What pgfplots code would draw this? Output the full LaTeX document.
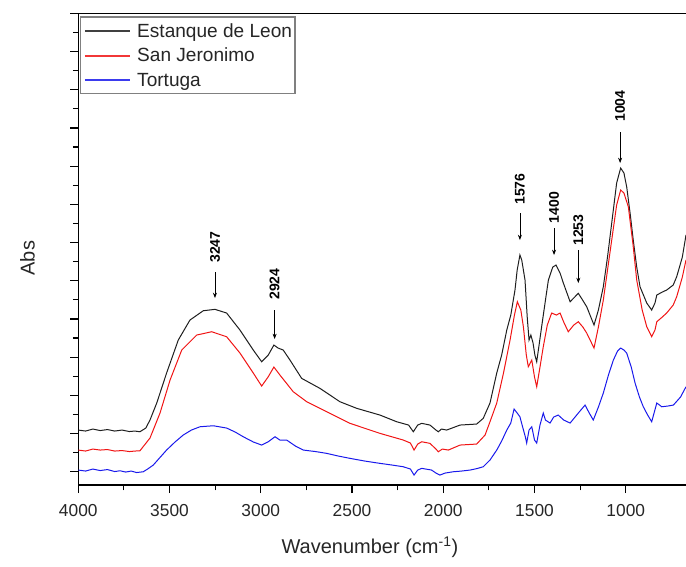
\documentclass[border=0pt]{standalone}
\usepackage{fontspec}
\setmainfont{Liberation Sans}
\usepackage{pgfplots}
\pgfplotsset{compat=1.18}
\usetikzlibrary{arrows.meta}

\definecolor{specblack}{RGB}{30,30,30}
\definecolor{specred}{RGB}{240,20,20}
\definecolor{specblue}{RGB}{25,25,235}

% spectra, y in arbitrary absorbance units
\pgfplotstableread{
w v
4000 55
3960 54
3920 56
3880 54.5
3840 55.5
3800 54
3760 55
3720 53.5
3690 54
3662 53.3
3630 57
3607 65
3570 82
3516 112
3452 145
3388 165
3315 174.3
3251 175.7
3187 172
3114 155
3041 135
2995 123.3
2959 130
2928 140
2905 137
2877 135
2840 125
2776 106.7
2676 96.7
2566 83.3
2474 76.7
2347 70
2255 63.3
2190 60
2164 53.3
2140 60
2118 61.7
2073 60
2040 55
2027 53.3
2010 56
1981 55
1908 60
1817 61
1781 66.7
1744 82
1707 112
1680 130
1652 155
1630 170
1607 195
1595 215
1580 230
1570 225
1561 215
1552 205
1540 168
1530 145
1520 150
1508 142
1498 130
1488 123.3
1475 140
1461 158.3
1440 185
1424 205
1400 218
1382 220
1360 212
1342 202
1305 183.3
1280 188
1260 191.7
1240 186
1214 178.3
1174 160
1150 175
1123 198.3
1100 228
1077 262
1050 302
1028 317
1010 312
995 298.3
975 270
959 245
940 218
922 198.3
885 182
858 175
840 182
830 190
800 193
776 195
740 200
721 208.3
690 228
670 250
}\blackdata

\pgfplotstableread{
w v
4000 35
3960 34
3920 36
3880 35
3840 35.5
3800 34
3760 34.5
3720 33.5
3690 34
3662 34.3
3607 47
3552 72
3497 105
3433 135
3351 150
3269 153.3
3187 148.3
3114 132
3041 112
2995 99
2959 108.3
2928 118
2895 110
2822 93.3
2748 83.3
2639 73.3
2511 61.7
2347 51.7
2219 45
2180 42
2160 35
2140 41
2118 43.3
2073 41.7
2040 36
2027 33.3
2005 36
1972 35
1908 40
1817 41
1771 50
1744 63.3
1707 82
1670 112
1634 145
1610 170
1594 183.3
1575 175
1561 158.3
1545 130
1534 118.3
1515 125
1500 108
1488 98.3
1470 118
1452 138.3
1430 160
1406 172
1380 170
1360 172
1340 163
1315 153.3
1285 160
1260 163.3
1235 158
1214 152
1174 137
1150 158
1123 185
1100 215
1077 245
1050 280
1028 295
1010 292
986 278.3
960 240
940 205
910 175
885 158.3
858 148.3
840 155
830 163.3
800 168
776 172
740 180
721 188.3
690 208
670 225
}\reddata

\pgfplotstableread{
w v
4000 15
3960 14
3920 16
3880 14.5
3840 15.5
3800 13.5
3771 14.3
3740 13
3710 14
3680 12.5
3644 13.3
3620 16
3589 20
3555 27
3516 35
3470 43
3425 50
3380 55
3333 58.3
3260 59.3
3187 57
3140 53
3096 48.3
3040 43
2995 40
2959 43.3
2922 48.3
2895 45
2858 45
2810 39
2767 35
2700 33.5
2639 31.7
2575 29
2511 26.7
2430 24
2347 21.7
2280 20
2219 18.3
2180 16
2160 10
2140 15
2118 16.7
2064 15
2040 12
2018 10
1990 12
1945 13.3
1900 14
1853 15
1815 16.5
1781 18.3
1744 25
1707 35
1680 44
1652 55
1630 62
1612 76
1595 72
1580 68.3
1565 58
1550 48
1543 42
1530 55
1515 58.3
1500 45
1488 42
1470 60
1452 72
1440 65
1415 62
1395 68
1370 70
1340 65
1305 62
1260 72
1223 80
1200 72
1178 65
1150 78
1123 92
1095 110
1068 125
1045 134
1028 137
1010 135
995 132
970 118
949 102
925 88
904 78.3
880 70
858 63.3
845 72
830 82
815 80
803 78.3
770 79
739 80
700 88
670 98.3
}\bluedata

\begin{document}
\begin{tikzpicture}
\begin{axis}[
    scale only axis,
    width=455.8pt, height=353.8pt,
    x dir=reverse,
    xmin=670, xmax=4000,
    ymin=0, ymax=471.7,
    axis x line*=box, axis y line*=left,
    axis line style={-, line width=1pt, black},
    tick align=outside,
    xtick pos=bottom, ytick pos=left,
    xtick={1000,1500,2000,2500,3000,3500,4000},
    minor x tick num=1,
    ytick={13.3,51.5,89.7,127.9,166.1,204.3,242.5,280.7,318.9,357.1,395.3,433.5,471.7},
    minor y tick num=1,
    yticklabels={},
    major tick length=6pt, minor tick length=4pt,
    every tick/.style={black, line width=0.9pt},
    /pgf/number format/assume math mode=true,
    /pgf/number format/1000 sep={},
    xticklabel style={font=\fontsize{13}{15}\selectfont, color=black!85, yshift=-5pt},
    xlabel={Wavenumber (cm\textsuperscript{-1})},
    xlabel style={font=\fontsize{15}{17}\selectfont, color=black!85,
        at={(axis description cs:0.48,0)}, anchor=center, yshift=-47pt},
    ylabel={Abs},
    ylabel style={font=\fontsize{15}{17}\selectfont, color=black!85,
        at={(axis description cs:-0.0834,0.481)}, anchor=center},
]
\addplot[specblack, line width=0.75pt] table[x=w, y=v] {\blackdata};
\addplot[specred, line width=0.75pt] table[x=w, y=v] {\reddata};
\addplot[specblue, line width=0.75pt] table[x=w, y=v] {\bluedata};

% legend box (drawn by hand)
\draw[gray, line width=0.8pt, fill=white]
    (axis description cs:0.00444,0.8310) rectangle (axis description cs:0.3566,0.9922);
\draw[specblack!85, line width=0.8pt] (axis description cs:0.01103,0.9625) -- (axis description cs:0.08508,0.9625);
\draw[specred!85, line width=0.8pt] (axis description cs:0.01103,0.9095) -- (axis description cs:0.08508,0.9095);
\draw[specblue!85, line width=0.8pt] (axis description cs:0.01103,0.8586) -- (axis description cs:0.08508,0.8586);
\begin{scope}[every node/.style={anchor=base west, inner sep=0pt, font=\fontsize{14.3}{17}\selectfont, text=black!85}]
\node at (axis description cs:0.0966,0.9498) {Estanque de Leon};
\node at (axis description cs:0.0966,0.8968) {San Jeronimo};
\node at (axis description cs:0.0966,0.8459) {Tortuga};
\end{scope}

% peak annotations
\begin{scope}[every node/.style={rotate=90, font=\fontsize{10.5}{12}\selectfont\bfseries}]
\draw[-{Stealth[length=4pt,width=3pt]}, line width=0.5pt] (axis cs:3251,213) -- (axis cs:3251,187);
\node at (axis cs:3251,238) {3247};
\draw[-{Stealth[length=4pt,width=3pt]}, line width=0.5pt] (axis cs:2924,175) -- (axis cs:2924,146);
\node at (axis cs:2924,201) {2924};
\draw[-{Stealth[length=4pt,width=3pt]}, line width=0.5pt] (axis cs:1580,272) -- (axis cs:1580,245);
\node at (axis cs:1580,296) {1576};
\draw[-{Stealth[length=4pt,width=3pt]}, line width=0.5pt] (axis cs:1393,257) -- (axis cs:1393,230);
\node at (axis cs:1393,277.5) {1400};
\draw[-{Stealth[length=4pt,width=3pt]}, line width=0.5pt] (axis cs:1260,235) -- (axis cs:1260,202);
\node at (axis cs:1260,255) {1253};
\draw[-{Stealth[length=4pt,width=3pt]}, line width=0.5pt] (axis cs:1031,353) -- (axis cs:1031,322);
\node at (axis cs:1031,379) {1004};
\end{scope}
\end{axis}
\pgfresetboundingbox
\path (-58.7pt,-60.75pt) rectangle (455.8pt,363.8pt);
\end{tikzpicture}
\end{document}
